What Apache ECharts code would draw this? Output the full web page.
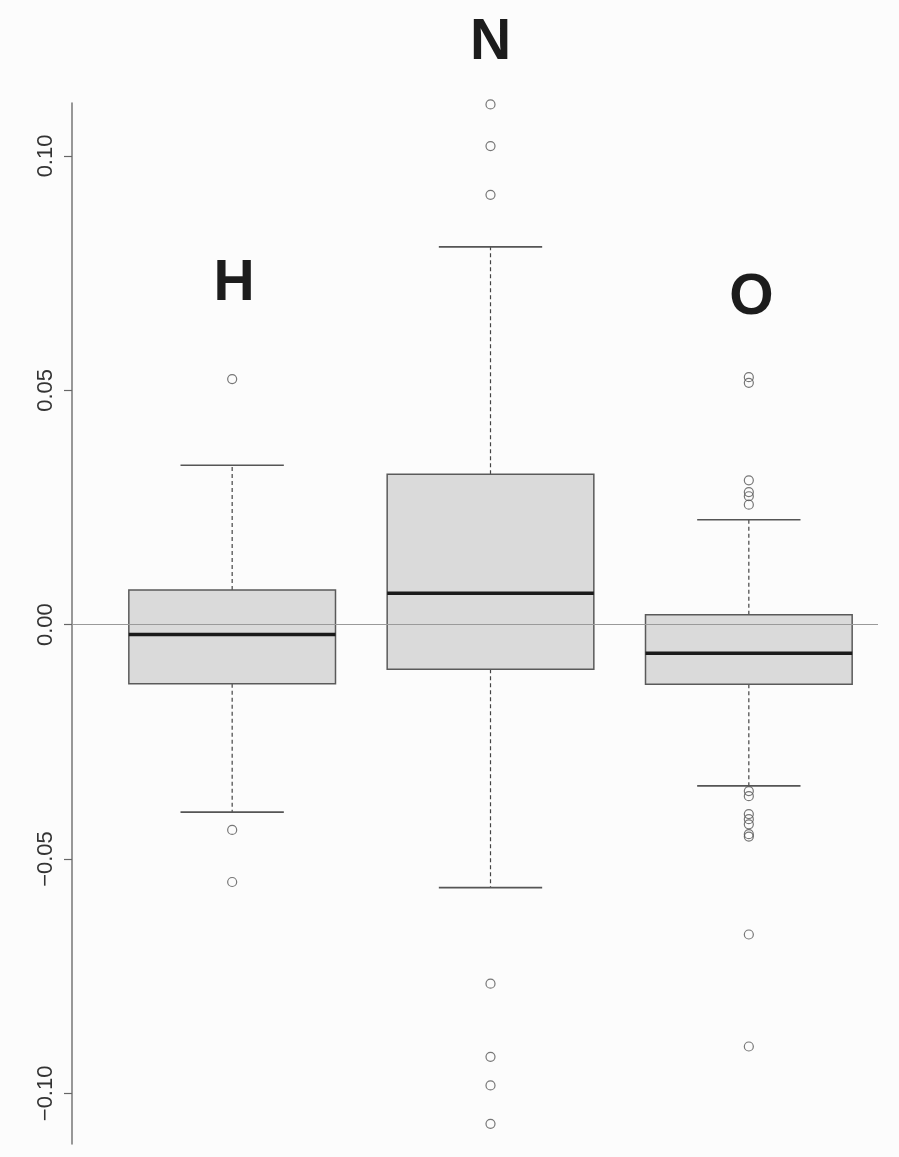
<!DOCTYPE html>
<html>
<head>
<meta charset="utf-8">
<title>H / N / O box plots</title>
<script src="https://cdn.jsdelivr.net/npm/echarts@6/dist/echarts.min.js"></script>
<style>
  html, body { margin: 0; padding: 0; background: #fcfcfc; }
  #chart { width: 899px; height: 1157px; }
</style>
</head>
<body>
<div id="chart"></div>
<script>
// Groups and five-number summaries
const groups = ['H', 'N', 'O'];
const lowerWhisker = [-0.0400, -0.0561, -0.0344];
const q1 = [-0.0126, -0.0095, -0.0127];
const median = [-0.0021, 0.0067, -0.0061];
const q3 = [0.0074, 0.0321, 0.0021];
const upperWhisker = [0.0340, 0.0806, 0.0224];

// Points beyond the whiskers
const outliersH = [0.0524, -0.0438, -0.0549];
const outliersN = [0.1110, 0.1021, 0.0917, -0.0766, -0.0922, -0.0983, -0.1065];
const outliersO = [0.0528, 0.0516, 0.0308, 0.0283, 0.0274, 0.0256,
                   -0.0355, -0.0366, -0.0404, -0.0415, -0.0426, -0.0447, -0.0452,
                   -0.0661, -0.0900];

// Y axis tick values
const yTicks = [-0.10, -0.05, 0.00, 0.05, 0.10];

const boxData = groups.map((g, i) => [i + 1, lowerWhisker[i], q1[i], median[i], q3[i], upperWhisker[i]]);
const outlierData = [];
[outliersH, outliersN, outliersO].forEach((arr, i) => {
  arr.forEach(v => outlierData.push([i + 1, v]));
});

function fmtTick(v) {
  const s = Math.abs(v).toFixed(2);
  return v < -1e-9 ? '\u2212' + s : s;
}

const BOX_HALF = 0.4;   // half box width in x units
const CAP_HALF = 0.2;   // half whisker cap width

function renderBox(params, api) {
  const x = api.value(0);
  const lw = api.value(1), lo = api.value(2), md = api.value(3), hi = api.value(4), uw = api.value(5);
  const tl = api.coord([x - BOX_HALF, hi]);
  const br = api.coord([x + BOX_HALF, lo]);
  const mL = api.coord([x - BOX_HALF, md]);
  const mR = api.coord([x + BOX_HALF, md]);
  const cHi = api.coord([x, hi]);
  const cLo = api.coord([x, lo]);
  const cUw = api.coord([x, uw]);
  const cLw = api.coord([x, lw]);
  const capUL = api.coord([x - CAP_HALF, uw]);
  const capUR = api.coord([x + CAP_HALF, uw]);
  const capLL = api.coord([x - CAP_HALF, lw]);
  const capLR = api.coord([x + CAP_HALF, lw]);
  const whiskerStyle = { stroke: '#444', lineWidth: 1.2, lineDash: [4, 3] };
  const capStyle = { stroke: '#555', lineWidth: 1.6 };
  return {
    type: 'group',
    children: [
      { type: 'line', shape: { x1: cHi[0], y1: cHi[1], x2: cUw[0], y2: cUw[1] }, style: whiskerStyle },
      { type: 'line', shape: { x1: cLo[0], y1: cLo[1], x2: cLw[0], y2: cLw[1] }, style: whiskerStyle },
      { type: 'line', shape: { x1: capUL[0], y1: capUL[1], x2: capUR[0], y2: capUR[1] }, style: capStyle },
      { type: 'line', shape: { x1: capLL[0], y1: capLL[1], x2: capLR[0], y2: capLR[1] }, style: capStyle },
      { type: 'rect', shape: { x: tl[0], y: tl[1], width: br[0] - tl[0], height: br[1] - tl[1] },
        style: { fill: '#dadada', stroke: '#5a5a5a', lineWidth: 1.5 } },
      { type: 'line', shape: { x1: mL[0], y1: mL[1], x2: mR[0], y2: mR[1] },
        style: { stroke: '#1a1a1a', lineWidth: 3.5 }, z2: 10 }
    ]
  };
}

const chart = echarts.init(document.getElementById('chart'), null, { renderer: 'canvas' });

const letterStyle = {
  fill: '#1c1c1c',
  font: 'bold 57px "Liberation Sans", Arial, sans-serif',
  textAlign: 'center',
  textVerticalAlign: 'middle'
};

chart.setOption({
  backgroundColor: '#fcfcfc',
  animation: false,
  grid: { left: 72, right: 21, top: 103, bottom: 13 },
  xAxis: {
    type: 'value',
    min: 0.38,
    max: 3.5,
    show: false
  },
  yAxis: {
    type: 'value',
    min: -0.1108,
    max: 0.1113,
    axisLine: { show: true, lineStyle: { color: '#777', width: 1.5 } },
    axisTick: { show: true, customValues: yTicks, length: 8, lineStyle: { color: '#666', width: 1.2 } },
    axisLabel: {
      show: true,
      customValues: yTicks,
      rotate: 90,
      margin: 15,
      fontSize: 22,
      color: '#333',
      fontFamily: '"Liberation Sans", Arial, sans-serif',
      formatter: fmtTick
    },
    splitLine: { show: false }
  },
  series: [
    {
      type: 'custom',
      name: 'box',
      renderItem: renderBox,
      data: boxData,
      z: 2,
      silent: true
    },
    {
      type: 'scatter',
      name: 'outliers',
      data: outlierData,
      symbol: 'circle',
      symbolSize: 9,
      itemStyle: { color: 'transparent', borderColor: '#555', borderWidth: 1.2 },
      z: 4,
      silent: true,
      markLine: {
        silent: true,
        symbol: ['none', 'none'],
        label: { show: false },
        lineStyle: { color: '#9a9a9a', width: 1, type: 'solid' },
        data: [{ yAxis: 0 }]
      }
    }
  ],
  graphic: [
    { type: 'text', x: 234, y: 284.5, style: Object.assign({ text: groups[0] }, letterStyle) },
    { type: 'text', x: 490.5, y: 43.5, style: Object.assign({ text: groups[1] }, letterStyle) },
    { type: 'text', x: 751.5, y: 298, style: Object.assign({ text: groups[2] }, letterStyle) }
  ]
});
</script>
</body>
</html>
